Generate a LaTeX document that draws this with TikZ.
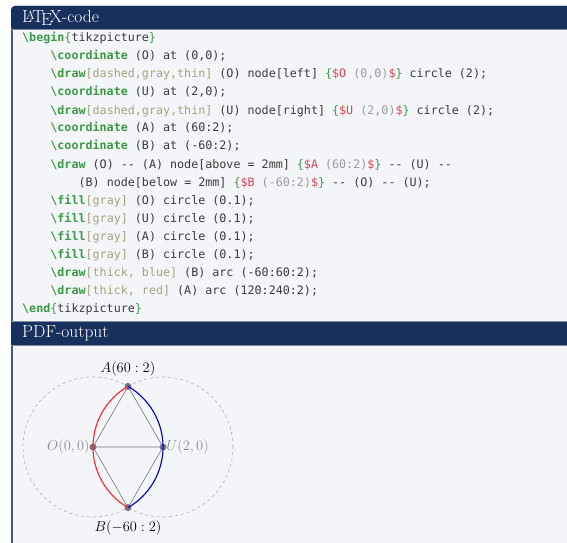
\documentclass[tikz,border=0pt]{standalone}
\usepackage{fontspec}
\newfontfamily\codefont{DejaVu Sans Mono}
\definecolor{bgc}{HTML}{F4F5F9}
\definecolor{navy}{HTML}{17305E}
\definecolor{framec}{HTML}{4A5878}
\definecolor{kwc}{HTML}{3A9A44}
\definecolor{optc}{HTML}{A8A27E}
\definecolor{dolc}{HTML}{D9434E}
\definecolor{mthc}{HTML}{9A9A9A}
\definecolor{txtc}{HTML}{3A3A3A}
\definecolor{dotc}{HTML}{7A7282}
\newcommand\ckw[1]{{\color{kwc}\bfseries\textbackslash#1}}
\newcommand\cop[1]{{\color{optc}[#1]}}
\newcommand\cbr[1]{{\color{kwc}\{}#1{\color{kwc}\}}}
\newcommand\cmth[2]{{\color{kwc}\{}{\color{dolc}\$#1}\ {\color{mthc}#2}{\color{dolc}\$}{\color{kwc}\}}}
\tikzset{
  codeline/.style={anchor=west, inner sep=0pt, text height=8.5pt, text depth=2.5pt,
    font=\codefont\fontsize{11.7}{14}\selectfont, text=txtc},
  title/.style={anchor=west, inner sep=0pt, text=white, font=\fontsize{17.5}{19}\selectfont},
  lbl/.style={font=\fontsize{15}{17}\selectfont, inner sep=3pt},
  dot/.style={fill=dotc},
  guide/.style={dashed, black!30, line width=0.6pt},
}
\begin{document}
\begin{tikzpicture}[x=1pt,y=1pt]
\useasboundingbox (0,0) rectangle (567,542);
\fill[white] (0,0) rectangle (567,542);
% frame
\fill[framec, rounded corners=4pt] (11,-20) rectangle (600,536);
\fill[bgc] (13,-20) rectangle (600,512);
\fill[navy, rounded corners=4pt] (11,512) -- (11,536) -- (600,536) -- (600,512) -- cycle;
\fill[navy] (11,197) rectangle (600,221);
\draw[framec!70!white, line width=0.6pt] (11,512.3) -- (600,512.3);
\draw[framec!70!white, line width=0.6pt] (11,221) -- (600,221) (11,197) -- (600,197);
\node[title] (t1) at (22,524) {\LaTeX-code};
\node[title] (t2) at (22,209) {PDF-output};
% code
\node[codeline] (l0) at (22.0,503) {\ckw{begin}\cbr{tikzpicture}};
\node[codeline] (l1) at (50.2,485) {\ckw{coordinate} (O) at (0,0);};
\node[codeline] (l2) at (50.2,467) {\ckw{draw}\cop{dashed,gray,thin} (O) node[left] \cmth{O}{(0,0)} circle (2);};
\node[codeline] (l3) at (50.2,449) {\ckw{coordinate} (U) at (2,0);};
\node[codeline] (l4) at (50.2,431) {\ckw{draw}\cop{dashed,gray,thin} (U) node[right] \cmth{U}{(2,0)} circle (2);};
\node[codeline] (l5) at (50.2,413) {\ckw{coordinate} (A) at (60:2);};
\node[codeline] (l6) at (50.2,395) {\ckw{coordinate} (B) at (-60:2);};
\node[codeline] (l7) at (50.2,377) {\ckw{draw} (O) -{}- (A) node[above = 2mm] \cmth{A}{(60:2)} -{}- (U) -{}-};
\node[codeline] (l8) at (78.4,359) {(B) node[below = 2mm] \cmth{B}{(-60:2)} -{}- (O) -{}- (U);};
\node[codeline] (l9) at (50.2,341) {\ckw{fill}\cop{gray} (O) circle (0.1);};
\node[codeline] (l10) at (50.2,323) {\ckw{fill}\cop{gray} (U) circle (0.1);};
\node[codeline] (l11) at (50.2,305) {\ckw{fill}\cop{gray} (A) circle (0.1);};
\node[codeline] (l12) at (50.2,287) {\ckw{fill}\cop{gray} (B) circle (0.1);};
\node[codeline] (l13) at (50.2,269) {\ckw{draw}\cop{thick, blue} (B) arc (-60:60:2);};
\node[codeline] (l14) at (50.2,251) {\ckw{draw}\cop{thick, red} (A) arc (120:240:2);};
\node[codeline] (l15) at (22.0,233) {\ckw{end}\cbr{tikzpicture}};
% diagram
\begin{scope}[shift={(93,95)}, x=35pt, y=35pt]
  \coordinate (O) at (0,0);
  \draw[guide] (O) node[left, lbl, text=black!45] (lo) {$O(0,0)$} circle (2);
  \coordinate (U) at (2,0);
  \draw[guide] (U) node[right, lbl, text=black!45] (lu) {$U(2,0)$} circle (2);
  \coordinate (A) at (60:2);
  \coordinate (B) at (-60:2);
  \draw[black!55, line width=0.6pt] (O) -- (A) node[above=7pt, lbl, text=black] (la) {$A(60:2)$} -- (U) --
     (B) node[below=10pt, lbl, text=black] (lb) {$B(-60:2)$} -- (O) -- (U);
  \fill[dot] (O) circle (0.1);
  \fill[dot] (U) circle (0.1);
  \fill[dot] (A) circle (0.1);
  \fill[dot] (B) circle (0.1);
  \draw[line width=1.1pt, blue!80!black] (B) arc (-60:60:2);
  \draw[line width=1.1pt, red!85!white] (A) arc (120:240:2);
\end{scope}
\end{tikzpicture}
\end{document}
